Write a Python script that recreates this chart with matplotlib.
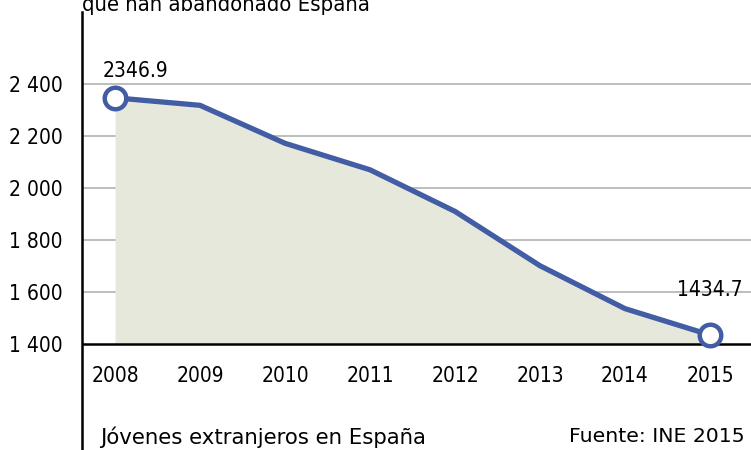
import matplotlib
matplotlib.use("Agg")
import matplotlib.pyplot as plt
import matplotlib.transforms as mtransforms

years = [2008, 2009, 2010, 2011, 2012, 2013, 2014, 2015]
values = [2346.9, 2318, 2172, 2070, 1910, 1701, 1536, 1434.7]
ytick_vals = [1400, 1600, 1800, 2000, 2200, 2400]
ytick_labels = ["1 400", "1 600", "1 800", "2 000", "2 200", "2 400"]
title = "que han abandonado España"
footer_left = "Jóvenes extranjeros en España"
footer_right = "Fuente: INE 2015"

plt.rcParams['font.family'] = ['DejaVu Sans']
plt.rcParams['font.stretch'] = 'condensed'

W, H = 751, 450
fig = plt.figure(figsize=(W / 100, H / 100), dpi=100)
ax = fig.add_axes([82 / W, 0, 1 - 82 / W, 1 - 12 / H])

line_col = "#435da5"
fill_col = "#e6e8dc"

ax.set_xlim(2008 - 33 / 85, 2015 + 41 / 85)
ax.set_ylim(1400 - 106 / 0.26, 2400 + 72 / 0.26)

ax.fill_between(years, values, 1400, color=fill_col, lw=0, zorder=1)
for v in ytick_vals[1:]:
    ax.axhline(v, color="#b8b8b8", lw=1.3, zorder=0.5)
ax.axhline(1400, color="black", lw=1.8, zorder=3)

ax.plot(years, values, color=line_col, lw=3.8, zorder=4, solid_joinstyle='round')
ax.plot([years[0], years[-1]], [values[0], values[-1]], 'o', ms=15.5,
        mfc='white', mec=line_col, mew=3.2, zorder=5, linestyle='none')

for s in ["top", "right", "bottom"]:
    ax.spines[s].set_visible(False)
ax.spines["left"].set_linewidth(1.8)
ax.spines["left"].set_color("black")

ax.set_xticks([])
ax.set_yticks(ytick_vals)
ax.set_yticklabels(ytick_labels, fontsize=15)
ax.tick_params(axis='y', length=0, pad=14)

trans = mtransforms.blended_transform_factory(ax.transData, ax.transAxes)
for yr in years:
    ax.text(yr, (450 - 376) / 438, str(yr), transform=trans, ha='center',
            va='center', fontsize=15)

ax.text(years[0] + 0.24, values[0] + 102, f"{values[0]:.1f}", ha='center',
        va='center', fontsize=15)
ax.text(years[-1], values[-1] + 172, f"{values[-1]:.1f}", ha='center',
        va='center', fontsize=15)

fig.text(100 / W, 1 - 437 / H, footer_left, ha='left', va='center',
         fontsize=15.3, fontstretch='normal')
fig.text(745 / W, 1 - 436 / H, footer_right, ha='right', va='center',
         fontsize=14.7, fontstretch='normal')
fig.text(82 / W, 1 - 11 / H, title, ha='left', va='baseline', fontsize=15.8)

fig.savefig("out.png", dpi=100)
